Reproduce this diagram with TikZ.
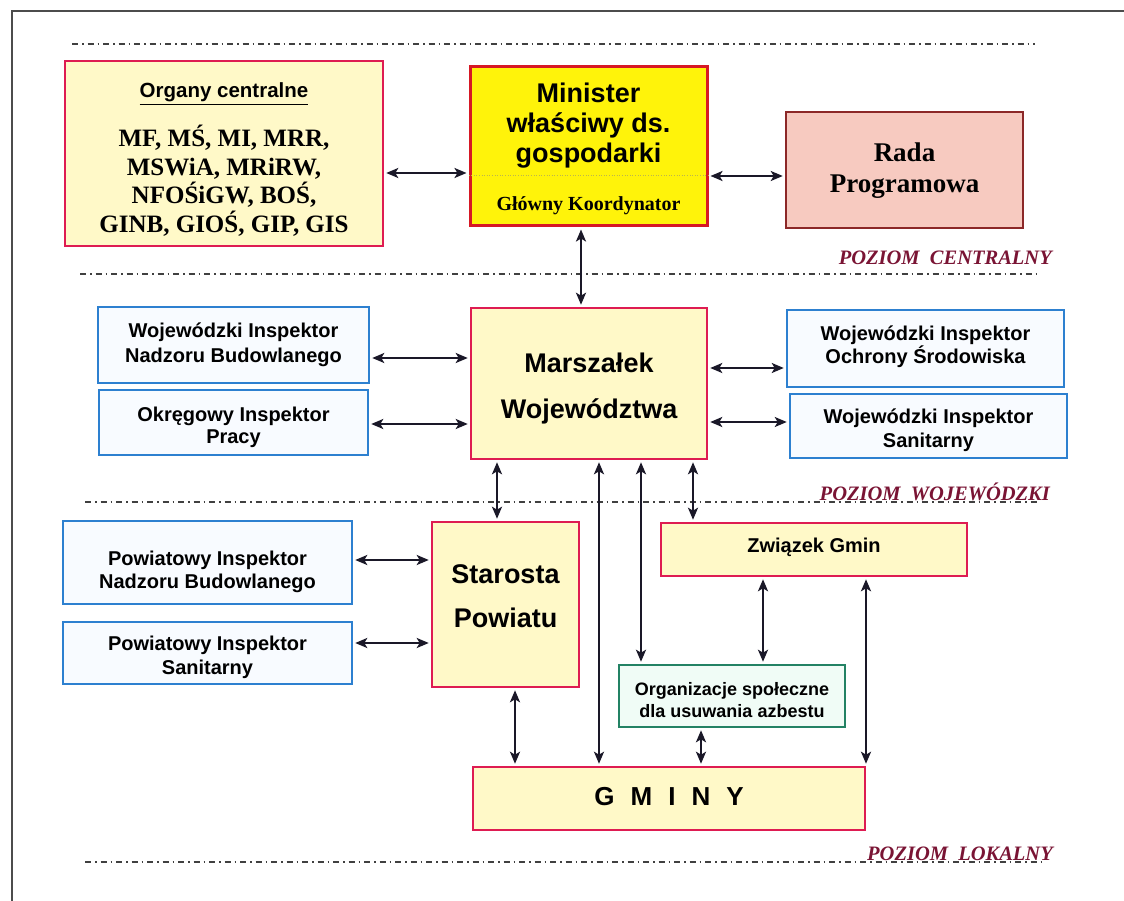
\documentclass[tikz,border=0pt]{standalone}
\usepackage{fontspec}
\setmainfont{Liberation Serif}
\setsansfont{Liberation Sans}
\usetikzlibrary{arrows.meta}

\definecolor{paleyellow}{RGB}{255,249,200}
\definecolor{boxred}{RGB}{222,28,82}
\definecolor{minyellow}{RGB}{255,243,10}
\definecolor{minred}{RGB}{214,24,36}
\definecolor{radafill}{RGB}{247,202,192}
\definecolor{radaborder}{RGB}{140,40,40}
\definecolor{inspblue}{RGB}{45,128,208}
\definecolor{inspfill}{RGB}{248,251,255}
\definecolor{orgteal}{RGB}{35,130,100}
\definecolor{orgfill}{RGB}{240,252,246}
\definecolor{levelred}{RGB}{122,20,52}
\definecolor{arrowdark}{RGB}{26,24,40}

\newcommand{\fsans}[2]{\fontsize{#1}{#2}\selectfont\sffamily\bfseries}
\newcommand{\fserif}[2]{\fontsize{#1}{#2}\selectfont\rmfamily\bfseries}

\tikzset{
  box/.style={draw=boxred, fill=paleyellow, line width=2.5pt, inner sep=0pt},
  minbox/.style={draw=minred, fill=minyellow, line width=3pt, inner sep=0pt},
  radabox/.style={draw=radaborder, fill=radafill, line width=2.5pt, inner sep=0pt},
  inspbox/.style={draw=inspblue, fill=inspfill, line width=2.5pt, inner sep=0pt},
  orgbox/.style={draw=orgteal, fill=orgfill, line width=2.5pt, inner sep=0pt},
  lbl/.style={anchor=base, align=center, inner sep=0pt, text=black},
  levellbl/.style={anchor=base east, inner sep=0pt, text=levelred,
    font=\fontsize{20.5}{24}\selectfont\rmfamily\bfseries\itshape},
  levelline/.style={line width=1.5pt, black!75, dash pattern=on 6pt off 4pt on 1.5pt off 4pt},
  frameline/.style={line width=2pt, black!70},
  conn/.style={line width=2.5pt, arrowdark, shorten <=2pt, shorten >=2pt,
    {Stealth[length=12pt,width=10pt,inset=3pt]}-{Stealth[length=12pt,width=10pt,inset=3pt]}},
}

\begin{document}
\begin{tikzpicture}[x=1pt,y=-1pt]
\fill[white] (0,0) rectangle (1124,901);
\useasboundingbox (0,0) rectangle (1124,901);
\draw[frameline] (12,901) -- (12,11) -- (1124,11);

% poziomy
\draw[levelline] (72,44) -- (1035,44);
\draw[levelline] (80,274) -- (1040,274);
\draw[levelline] (85,502) -- (1040,502);
\draw[levelline] (85,862) -- (1045,862);
\node[levellbl] (levC) at (1052,265) {POZIOM~~CENTRALNY};
\node[levellbl] (levW) at (1050,500) {POZIOM~~WOJEWÓDZKI};
\node[levellbl] (levL) at (1053,860) {POZIOM~~LOKALNY};

% poziom centralny
\node[box, minimum width=318pt, minimum height=185pt] (organy) at (224,153.5) {};
\node[lbl, font=\fsans{20.5}{24}] (organyH) at (224,98) {\underline{Organy centralne}};
\node[lbl, font=\fserif{25}{28.5}] (organyL) at (224,232.5) {MF, MŚ, MI, MRR,\\MSWiA, MRiRW,\\NFOŚiGW, BOŚ,\\GINB, GIOŚ, GIP, GIS};
\node[minbox, minimum width=237pt, minimum height=159pt] (minister) at (588.5,146.5) {};
\draw[olive!60, line width=0.6pt, dotted] ([yshift=-28.5pt]minister.west) -- ([yshift=-28.5pt]minister.east);
\node[lbl, font=\fsans{27}{30}] (ministerL) at (588.5,163) {Minister\\właściwy ds.\\gospodarki};
\node[lbl, font=\fserif{20}{24}] (ministerK) at (588.5,211) {Główny Koordynator};
\node[radabox, minimum width=237pt, minimum height=116pt] (rada) at (904.5,170) {};
\node[lbl, font=\fserif{27}{31}] (radaL) at (904.5,193) {Rada\\Programowa};

% poziom wojewodzki
\node[box, minimum width=236pt, minimum height=151pt] (marszalek) at (589,383.5) {};
\node[lbl, font=\fsans{27}{46}] (marszalekL) at (589,418) {Marszałek\\Województwa};
\node[inspbox, minimum width=271pt, minimum height=76pt] (winb) at (233.5,345) {};
\node[lbl, font=\fsans{20}{25}] (winbL) at (233.5,362) {Wojewódzki Inspektor\\Nadzoru Budowlanego};
\node[inspbox, minimum width=269pt, minimum height=65pt] (oip) at (233.5,422.5) {};
\node[lbl, font=\fsans{20}{22}] (oipL) at (233.5,443) {Okręgowy Inspektor\\Pracy};
\node[inspbox, minimum width=277pt, minimum height=77pt] (wios) at (925.5,348.5) {};
\node[lbl, font=\fsans{20}{23}] (wiosL) at (925.5,363) {Wojewódzki Inspektor\\Ochrony Środowiska};
\node[inspbox, minimum width=277pt, minimum height=64pt] (wis) at (928.5,426) {};
\node[lbl, font=\fsans{20}{24}] (wisL) at (928.5,447) {Wojewódzki Inspektor\\Sanitarny};

% poziom lokalny
\node[box, minimum width=147pt, minimum height=165pt] (starosta) at (505.5,604.5) {};
\node[lbl, font=\fsans{27}{44}] (starostaL) at (505.5,627) {Starosta\\Powiatu};
\node[inspbox, minimum width=289pt, minimum height=83pt] (pinb) at (207.5,562.5) {};
\node[lbl, font=\fsans{20}{23}] (pinbL) at (207.5,588) {Powiatowy Inspektor\\Nadzoru Budowlanego};
\node[inspbox, minimum width=289pt, minimum height=62pt] (pis) at (207.5,653) {};
\node[lbl, font=\fsans{20}{24}] (pisL) at (207.5,674) {Powiatowy Inspektor\\Sanitarny};
\node[box, minimum width=306pt, minimum height=53pt] (zwiazek) at (814,549.5) {};
\node[lbl, font=\fsans{20}{24}] (zwiazekL) at (814,552) {Związek Gmin};
\node[orgbox, minimum width=226pt, minimum height=62pt] (organizacje) at (732,696) {};
\node[lbl, font=\fsans{18}{22}] (organizacjeL) at (732,717) {Organizacje społeczne\\dla usuwania azbestu};
\node[box, minimum width=392pt, minimum height=63pt] (gminy) at (669,798.5) {};
\node[lbl, font=\fsans{26}{30}] (gminyL) at (669,805) {G\hspace{16pt}M\hspace{16pt}I\hspace{16pt}N\hspace{16pt}Y};

% polaczenia
\draw[conn] (organy.east |- 0,173) -- (minister.west |- 0,173);
\draw[conn] (minister.east |- 0,176) -- (rada.west |- 0,176);
\draw[conn] (minister.south -| 581,0) -- (marszalek.north -| 581,0);
\draw[conn] (winb.east |- 0,358) -- (marszalek.west |- 0,358);
\draw[conn] (oip.east |- 0,424) -- (marszalek.west |- 0,424);
\draw[conn] (marszalek.east |- 0,368) -- (wios.west |- 0,368);
\draw[conn] (marszalek.east |- 0,422) -- (wis.west |- 0,422);
\draw[conn] (marszalek.south -| 497,0) -- (starosta.north -| 497,0);
\draw[conn] (marszalek.south -| 599,0) -- (gminy.north -| 599,0);
\draw[conn] (marszalek.south -| 641,0) -- (organizacje.north -| 641,0);
\draw[conn] (marszalek.south -| 693,0) -- (zwiazek.north -| 693,0);
\draw[conn] (pinb.east |- 0,560) -- (starosta.west |- 0,560);
\draw[conn] (pis.east |- 0,643) -- (starosta.west |- 0,643);
\draw[conn] (starosta.south -| 515,0) -- (gminy.north -| 515,0);
\draw[conn] (zwiazek.south -| 763,0) -- (organizacje.north -| 763,0);
\draw[conn] (zwiazek.south -| 866,0) -- (gminy.north -| 866,0);
\draw[conn] (organizacje.south -| 701,0) -- (gminy.north -| 701,0);
\end{tikzpicture}
\end{document}
